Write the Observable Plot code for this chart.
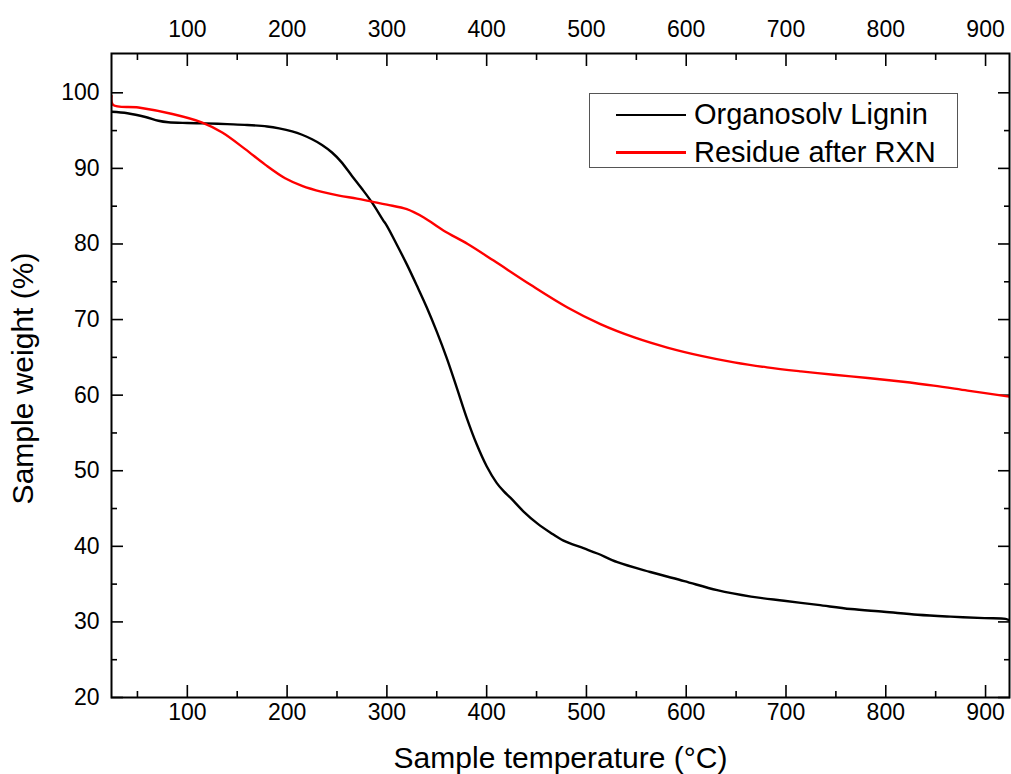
<!DOCTYPE html>
<html>
<head>
<meta charset="utf-8">
<script src="https://cdn.jsdelivr.net/npm/d3@7"></script>
<script src="https://cdn.jsdelivr.net/npm/@observablehq/plot@0.6"></script>
<style>
  html, body { margin: 0; padding: 0; background: #fff; }
  #wrap { position: relative; width: 1011px; height: 774px; font-family: "Liberation Sans", Arial, sans-serif; }
  #legend { position: absolute; left: 589px; top: 93px; width: 369px; height: 75px; box-sizing: border-box; border: 1.5px solid #555; background: #fff; }
  .lg-line { position: absolute; height: 2.5px; }
  .lg-text { position: absolute; font-size: 29px; line-height: 29px; white-space: nowrap; color: #000; }
</style>
</head>
<body>
<div id="wrap"></div>
<script>
// ---- data ----
const seriesNames = ["Organosolv Lignin", "Residue after RXN"];
const seriesColors = ["#000000", "#ff0000"];

const ligninTemp = [24, 40, 58, 71, 81, 100, 118, 140, 160, 180, 192, 205, 215, 225, 235, 245, 254, 265, 275, 285, 296, 300, 310, 320, 330, 340, 350, 360, 370, 380, 390, 400, 410, 417, 424, 437, 451, 464, 477, 497, 511, 531, 564, 598, 631, 665, 698, 732, 765, 798, 832, 865, 899, 920, 924];
const ligninWeight = [97.5, 97.3, 96.8, 96.3, 96.1, 96.0, 95.95, 95.85, 95.75, 95.55, 95.3, 94.9, 94.45, 93.85, 93.1, 92.1, 90.9, 89.0, 87.3, 85.5, 83.2, 82.4, 79.9, 77.3, 74.5, 71.6, 68.4, 64.9, 61.0, 57.0, 53.5, 50.6, 48.4, 47.3, 46.4, 44.6, 43.0, 41.8, 40.75, 39.75, 39.05, 37.9, 36.6, 35.4, 34.2, 33.35, 32.8, 32.25, 31.7, 31.35, 30.95, 30.7, 30.5, 30.4, 30.2];

const residueTemp = [24, 25.5, 51, 85, 115, 135, 158, 178, 198, 215, 235, 252, 270, 285, 300, 320, 337, 357, 381, 407, 444, 481, 514, 548, 581, 615, 648, 681, 715, 748, 782, 815, 848, 882, 922, 924];
const residueWeight = [99.6, 98.4, 98.06, 97.2, 96.07, 94.75, 92.55, 90.5, 88.7, 87.7, 86.9, 86.4, 86.0, 85.6, 85.2, 84.6, 83.5, 81.75, 80.0, 77.8, 74.6, 71.6, 69.4, 67.64, 66.3, 65.2, 64.34, 63.68, 63.15, 62.7, 62.27, 61.8, 61.26, 60.6, 59.84, 59.8];

const xMajorTicks = [100, 200, 300, 400, 500, 600, 700, 800, 900];
const xMinorTicks = [50, 150, 250, 350, 450, 550, 650, 750, 850];
const yMajorTicks = [20, 30, 40, 50, 60, 70, 80, 90, 100];
const yMinorTicks = [25, 35, 45, 55, 65, 75, 85, 95];

const xTitle = "Sample temperature (°C)";
const yTitle = "Sample weight (%)";

// ---- build ----
const lignin = ligninTemp.map((t, i) => ({t, w: ligninWeight[i]}));
const residue = residueTemp.map((t, i) => ({t, w: residueWeight[i]}));

const tickStyle = {fill: "none", label: null, strokeWidth: 1.6, stroke: "#000"};

const chart = Plot.plot({
  width: 1011,
  height: 774,
  marginLeft: 111,
  marginRight: 2,
  marginTop: 53,
  marginBottom: 77,
  style: {fontFamily: "'Liberation Sans', Arial, sans-serif", color: "#000", background: "#fff"},
  x: {domain: [24, 924]},
  y: {domain: [20, 105.2]},
  marks: [
    // tick labels
    Plot.axisX(xMajorTicks, {anchor: "bottom", tickSize: 0, tickPadding: 6, fontSize: 23, label: null}),
    Plot.axisX(xMajorTicks, {anchor: "top", tickSize: 0, tickPadding: 17, fontSize: 23, label: null}),
    Plot.axisY(yMajorTicks, {anchor: "left", tickSize: 0, tickPadding: 12, fontSize: 23, label: null}),
    // inward ticks
    Plot.axisX(xMajorTicks, {anchor: "bottom", tickSize: -12, ...tickStyle}),
    Plot.axisX(xMinorTicks, {anchor: "bottom", tickSize: -6, ...tickStyle}),
    Plot.axisX(xMajorTicks, {anchor: "top", tickSize: -12, ...tickStyle}),
    Plot.axisX(xMinorTicks, {anchor: "top", tickSize: -6, ...tickStyle}),
    Plot.axisY(yMajorTicks, {anchor: "left", tickSize: -12, ...tickStyle}),
    Plot.axisY(yMinorTicks, {anchor: "left", tickSize: -6, ...tickStyle}),
    Plot.axisY(yMajorTicks, {anchor: "right", tickSize: -12, ...tickStyle}),
    Plot.axisY(yMinorTicks, {anchor: "right", tickSize: -6, ...tickStyle}),
    // curves
    Plot.line(lignin, {x: "t", y: "w", stroke: seriesColors[0], strokeWidth: 2.4, curve: "catmull-rom", clip: true}),
    Plot.line(residue, {x: "t", y: "w", stroke: seriesColors[1], strokeWidth: 2.4, curve: "catmull-rom", clip: true}),
    // axis titles
    Plot.text([xTitle], {frameAnchor: "bottom", text: d => d, dy: 70, textAnchor: "middle", lineAnchor: "bottom", fontSize: 30, fill: "#000"}),
    Plot.text([yTitle], {frameAnchor: "left", text: d => d, dx: -79, dy: 3, rotate: -90, textAnchor: "middle", lineAnchor: "bottom", fontSize: 30, fill: "#000"}),
    Plot.frame({stroke: "#000", strokeWidth: 2})
  ]
});

const wrap = document.getElementById("wrap");
wrap.appendChild(chart);

// legend (inside plot frame, top-right)
const legend = document.createElement("div");
legend.id = "legend";
seriesNames.forEach((name, i) => {
  const rowCenter = 21 + i * 37.5; // relative to box top
  const line = document.createElement("div");
  line.className = "lg-line";
  line.style.left = "26px";
  line.style.width = "70px";
  line.style.top = (rowCenter - 1.25) + "px";
  line.style.background = seriesColors[i];
  legend.appendChild(line);
  const txt = document.createElement("div");
  txt.className = "lg-text";
  txt.style.left = "104px";
  txt.style.top = (rowCenter - 15) + "px";
  txt.textContent = name;
  legend.appendChild(txt);
});
wrap.appendChild(legend);
</script>
</body>
</html>
